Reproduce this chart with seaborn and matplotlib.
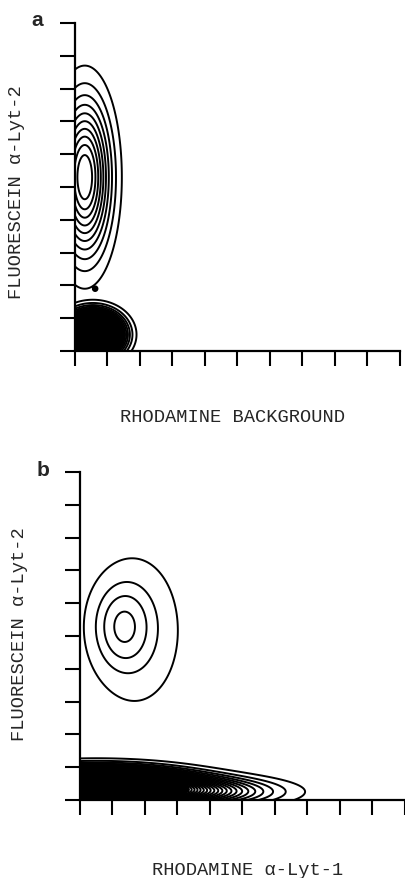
import numpy as np
import matplotlib
matplotlib.use("Agg")
import matplotlib.pyplot as plt
import seaborn as sns

# populations, axes in tick units (0..10)
# each population: centre, spread, relative weight; a population may have two parts
# panel a: Lyt-2+ cluster, double-negative blob, stray dot
a_cx = [[0.30], [0.55], [0.62]]
a_cy = [[5.30], [0.50], [1.90]]
a_sx = [[0.52], [0.48], [0.06]]
a_sy = [[1.55], [0.38], [0.06]]
a_w = [[1.0], [1.0], [1.0]]
a_levels = [np.linspace(0.09, 0.91, 10), np.arange(0.02, 0.62, 0.02), [0.5]]
a_core = [None, 0.6, 0.5]

# panel b: Lyt-2+ cluster (skewed to the right), Lyt-1 band with a long tail to the right
b_cx = [[1.30, 1.75], [0.50, 2.50]]
b_cy = [[5.30, 5.15], [0.45, 0.25]]
b_sx = [[0.55, 0.90], [1.60, 1.90]]
b_sy = [[0.80, 1.50], [0.30, 0.28]]
b_w = [[1.0, 0.5], [1.0, 0.35]]
b_levels = [[0.135, 0.36, 0.60, 0.88], np.arange(0.02, 0.44, 0.02)]
b_core = [None, 0.42]

ticks = list(range(11))
mono = ["Liberation Mono", "DejaVu Sans Mono"]

sns.set_style("ticks")
plt.rcParams["font.family"] = ["Liberation Sans", "DejaVu Sans"]

gx = np.linspace(-1.5, 10.5, 700)
gy = np.linspace(-1.5, 10.5, 700)
X, Y = np.meshgrid(gx, gy)


def density(cx, cy, sx, sy, w):
    Z = np.zeros_like(X)
    for j in range(len(cx)):
        Z += w[j] * np.exp(-0.5 * (((X - cx[j]) / sx[j]) ** 2 + ((Y - cy[j]) / sy[j]) ** 2))
    return Z / Z.max()


def draw_panel(ax, cx, cy, sx, sy, w, levels, core):
    for i in range(len(cx)):
        Z = density(cx[i], cy[i], sx[i], sy[i], w[i])
        ax.contour(X, Y, Z, levels=levels[i], colors="black", linewidths=1.4)
        if core[i] is not None:
            ax.contourf(X, Y, Z, levels=[core[i], 1.1], colors="black")
    ax.set_xlim(0, 10)
    ax.set_ylim(0, 10)
    ax.set_xticks(ticks)
    ax.set_yticks(ticks)
    ax.tick_params(length=11, width=1.5, direction="out", colors="black",
                   labelbottom=False, labelleft=False)
    sns.despine(ax=ax)
    for s in ["left", "bottom"]:
        ax.spines[s].set_linewidth(1.6)
        ax.spines[s].set_color("black")


fig = plt.figure(figsize=(4.06, 8.79), dpi=100)
ax_a = fig.add_axes([75 / 406, 1 - 352 / 879, 325 / 406, 328 / 879])
ax_b = fig.add_axes([80 / 406, 1 - 801 / 879, 325 / 406, 328 / 879])

draw_panel(ax_a, a_cx, a_cy, a_sx, a_sy, a_w, a_levels, a_core)
draw_panel(ax_b, b_cx, b_cy, b_sx, b_sy, b_w, b_levels, b_core)

fig.text(37 / 406, 1 - 21 / 879, "a", fontsize=15, fontweight="bold", ha="center", va="center")
fig.text(43 / 406, 1 - 471 / 879, "b", fontsize=15, fontweight="bold", ha="center", va="center")

fig.text(233 / 406, 1 - 418 / 879, "RHODAMINE BACKGROUND", family=mono, fontsize=13.5,
         ha="center", va="center")
fig.text(17 / 406, 1 - 192 / 879, "FLUORESCEIN α-Lyt-2", family=mono, fontsize=13.5,
         rotation=90, ha="center", va="center")
fig.text(248 / 406, 1 - 871 / 879, "RHODAMINE α-Lyt-1", family=mono, fontsize=13.5,
         ha="center", va="center")
fig.text(20 / 406, 1 - 634 / 879, "FLUORESCEIN α-Lyt-2", family=mono, fontsize=13.5,
         rotation=90, ha="center", va="center")

fig.savefig("out.png", dpi=100)
